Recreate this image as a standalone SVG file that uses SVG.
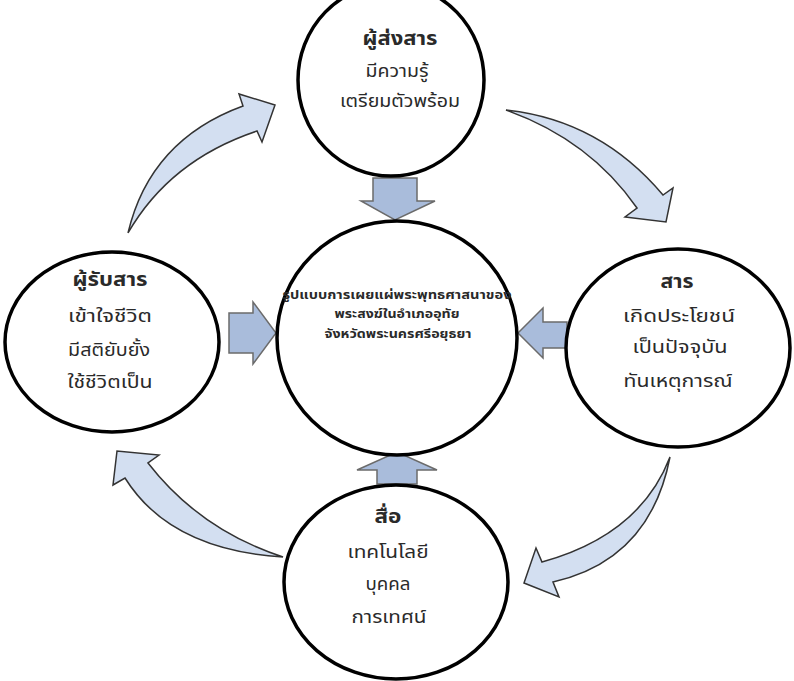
<svg xmlns="http://www.w3.org/2000/svg" width="794" height="681" viewBox="0 0 794 681">
<style>
.node{fill:#fff;stroke:#000;stroke-width:3.5}
.blk{fill:#a9bcdb;stroke:#6b6b6b;stroke-width:1.5;stroke-linejoin:miter}
.cur{fill:#d3dff1;stroke:#333;stroke-width:1.5;stroke-linejoin:miter}
text{font-family:"Noto Sans Thai","Noto Sans",Tahoma,"DejaVu Sans",sans-serif;fill:#2a2a2a;text-anchor:middle}
.t{font-size:19px;font-weight:bold}
.b{font-size:18.5px}
.c{font-size:11.5px;font-weight:bold}
</style>
<rect width="794" height="681" fill="#fff"/>
<g id="connectors">
<path class="blk" d="M373,178 H417 V201 H435 L395,220 L361,201 H373 Z"/>
<path class="blk" d="M229,313 H253 V302 L276,333 L253,364 V353 H229 Z"/>
<path class="blk" d="M567,322 H543 V308 L518,333 L543,358 V348 H567 Z"/>
<path class="blk" d="M377,484 H417 V470 H437 L397,452 L357,470 H377 Z"/>
<path class="cur" d="M128,233 Q150,140 243,106 L239,94 L275,105 L262,142 L257,131 Q170,160 128,233 Z"/>
<path class="cur" d="M506,110 Q600,120 663,195 L673,188 L666,222 L625,217 L637,208 Q590,140 506,110 Z"/>
<path class="cur" d="M670,457 Q640,535 542,562 L536,548 L524,583 L559,597 L553,582 Q650,560 670,457 Z"/>
<path class="cur" d="M283,557 Q200,530 148,463 L159,455 L117,451 L113,485 L125,478 Q170,550 283,557 Z"/>
</g>
<g id="center">
<ellipse class="node" cx="397" cy="338" rx="120" ry="117"/>
<text class="c" x="397" y="299" textLength="229" lengthAdjust="spacingAndGlyphs">รูปแบบการเผยแผ่พระพุทธศาสนาของ</text>
<text class="c" x="397" y="318" textLength="125" lengthAdjust="spacingAndGlyphs">พระสงฆ์ในอำเภออุทัย</text>
<text class="c" x="398" y="338" textLength="147" lengthAdjust="spacingAndGlyphs">จังหวัดพระนครศรีอยุธยา</text>
</g>
<g id="sender">
<ellipse class="node" cx="391" cy="80" rx="93" ry="96"/>
<text class="t" x="400" y="45" textLength="75" lengthAdjust="spacingAndGlyphs">ผู้ส่งสาร</text>
<text class="b" x="397" y="77" textLength="63" lengthAdjust="spacingAndGlyphs">มีความรู้</text>
<text class="b" x="400" y="107" textLength="120" lengthAdjust="spacingAndGlyphs">เตรียมตัวพร้อม</text>
</g>
<g id="message">
<ellipse class="node" cx="678" cy="348" rx="112" ry="99"/>
<text class="t" x="677" y="288" textLength="33" lengthAdjust="spacingAndGlyphs">สาร</text>
<text class="b" x="679" y="322" textLength="112" lengthAdjust="spacingAndGlyphs">เกิดประโยชน์</text>
<text class="b" x="680" y="353" textLength="95" lengthAdjust="spacingAndGlyphs">เป็นปัจจุบัน</text>
<text class="b" x="678" y="387" textLength="109" lengthAdjust="spacingAndGlyphs">ทันเหตุการณ์</text>
</g>
<g id="receiver">
<ellipse class="node" cx="112" cy="342" rx="107" ry="90"/>
<text class="t" x="110" y="286" textLength="75" lengthAdjust="spacingAndGlyphs">ผู้รับสาร</text>
<text class="b" x="110" y="322" textLength="84" lengthAdjust="spacingAndGlyphs">เข้าใจชีวิต</text>
<text class="b" x="109" y="356" textLength="82" lengthAdjust="spacingAndGlyphs">มีสติยับยั้ง</text>
<text class="b" x="110" y="388" textLength="85" lengthAdjust="spacingAndGlyphs">ใช้ชีวิตเป็น</text>
</g>
<g id="media">
<ellipse class="node" cx="396" cy="582" rx="112" ry="97"/>
<text class="t" x="388" y="523" textLength="27" lengthAdjust="spacingAndGlyphs">สื่อ</text>
<text class="b" x="388" y="558" textLength="81" lengthAdjust="spacingAndGlyphs">เทคโนโลยี</text>
<text class="b" x="388" y="590" textLength="45" lengthAdjust="spacingAndGlyphs">บุคคล</text>
<text class="b" x="389" y="623" textLength="75" lengthAdjust="spacingAndGlyphs">การเทศน์</text>
</g>
</svg>
